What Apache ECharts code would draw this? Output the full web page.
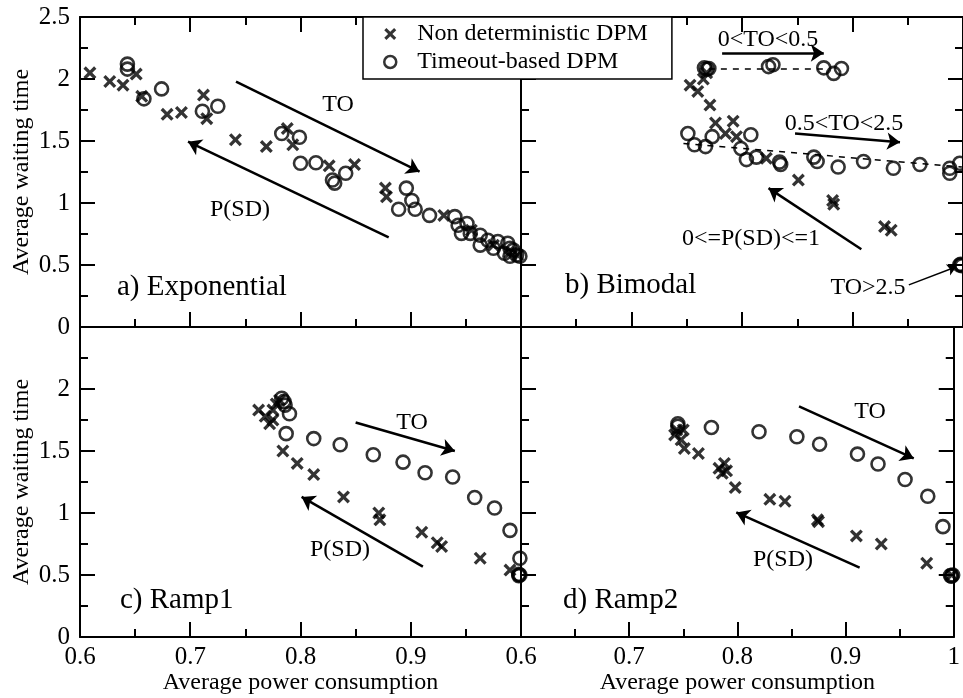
<!DOCTYPE html>
<html>
<head>
<meta charset="utf-8">
<script src="https://cdn.jsdelivr.net/npm/echarts@6/dist/echarts.min.js"></script>
<style>
  html, body { margin: 0; padding: 0; background: #fff; overflow: hidden; }
  #wrap { position: relative; width: 963px; height: 698px; }
  .layer { position: absolute; left: 0; top: 0; width: 963px; height: 698px; }
</style>
</head>
<body>
<div id="wrap">
  <div class="layer" id="chartA"></div>
  <div class="layer" id="chartC"></div>
  <div class="layer" id="chartD"></div>
  <div class="layer" id="chartB"></div>
</div>
<script>
// series names
var nameND = "Non deterministic DPM";
var nameTO = "Timeout-based DPM";

// a) Exponential
var expNonDet = [[0.609,2.05],[0.627,1.98],[0.639,1.95],[0.651,2.04],[0.656,1.86],[0.679,1.715],[0.692,1.73],
  [0.712,1.87],[0.715,1.68],[0.741,1.51],[0.769,1.455],[0.788,1.60],[0.793,1.47],[0.826,1.30],[0.849,1.31],
  [0.877,1.12],[0.878,1.05],[0.930,0.90],[0.955,0.78],[0.975,0.66],[0.990,0.60],[0.997,0.58]];
var expTimeout = [[0.643,2.12],[0.643,2.08],[0.658,1.84],[0.674,1.92],[0.711,1.74],[0.725,1.78],[0.783,1.56],
  [0.799,1.53],[0.800,1.32],[0.814,1.325],[0.829,1.185],[0.831,1.16],[0.841,1.24],[0.889,0.95],[0.896,1.12],
  [0.901,1.02],[0.904,0.95],[0.917,0.90],[0.940,0.89],[0.943,0.82],[0.951,0.835],[0.946,0.755],[0.954,0.755],
  [0.963,0.74],[0.963,0.66],[0.970,0.70],[0.979,0.69],[0.988,0.675],[0.975,0.635],[0.985,0.595],[0.990,0.635],
  [0.996,0.58],[0.990,0.57],[0.993,0.62],[0.999,0.57]];

// b) Bimodal
var bimNonDet = [[0.753,1.95],[0.760,1.90],[0.765,2.00],[0.768,2.05],[0.771,1.79],[0.776,1.645],[0.792,1.66],
  [0.785,1.56],[0.795,1.535],[0.822,1.36],[0.851,1.185],[0.882,1.02],[0.883,0.99],[0.929,0.81],[0.935,0.78]];
var bimTimeout = [[0.766,2.09],[0.768,2.08],[0.770,2.085],[0.824,2.10],[0.828,2.115],[0.874,2.09],[0.883,2.045],
  [0.890,2.085],[0.751,1.56],[0.757,1.47],[0.767,1.455],[0.773,1.535],[0.808,1.55],[0.799,1.44],[0.804,1.35],
  [0.813,1.37],[0.834,1.33],[0.835,1.31],[0.865,1.37],[0.868,1.335],[0.887,1.29],[0.910,1.335],[0.937,1.28],
  [0.961,1.31],[0.988,1.28],[0.988,1.24],[0.997,1.32],[0.997,0.50],[0.998,0.505],[0.999,0.495]];

// c) Ramp1
var r1NonDet = [[0.762,1.83],[0.768,1.78],[0.772,1.72],[0.775,1.83],[0.778,1.88],[0.781,1.91],[0.775,1.75],
  [0.784,1.50],[0.797,1.40],[0.812,1.31],[0.839,1.13],[0.871,1.00],[0.872,0.945],[0.910,0.845],[0.924,0.76],
  [0.928,0.73],[0.963,0.635],[0.990,0.54]];
var r1Timeout = [[0.783,1.925],[0.785,1.90],[0.786,1.87],[0.790,1.80],[0.787,1.64],[0.812,1.60],[0.836,1.55],
  [0.866,1.47],[0.893,1.41],[0.913,1.325],[0.938,1.29],[0.958,1.125],[0.976,1.04],[0.990,0.86],[0.999,0.635],
  [0.999,0.50],[0.998,0.505],[0.998,0.495]];

// d) Ramp2
var r2NonDet = [[0.744,1.67],[0.742,1.63],[0.750,1.67],[0.748,1.59],[0.751,1.52],[0.764,1.48],[0.783,1.36],
  [0.788,1.40],[0.786,1.32],[0.790,1.34],[0.798,1.205],[0.830,1.11],[0.844,1.095],[0.874,0.945],[0.875,0.93],
  [0.910,0.815],[0.933,0.75],[0.975,0.595],[0.998,0.50]];
var r2Timeout = [[0.745,1.72],[0.745,1.70],[0.776,1.69],[0.820,1.655],[0.855,1.615],[0.876,1.555],[0.911,1.475],
  [0.930,1.395],[0.955,1.27],[0.976,1.135],[0.990,0.89],[0.997,0.495],[0.999,0.50],[0.998,0.49]];

// arrows and dashed guides, in data units: [from, to]
var expArrows = [[[0.7415,1.978],[0.908,1.2525]], [[0.880,0.723],[0.698,1.494]]];
var bimArrows = [[[0.782,2.21],[0.874,2.21]], [[0.848,1.56],[0.943,1.49]], [[0.908,0.627],[0.824,1.12]]];
var bimSmallArrow = [[[0.951,0.34],[0.994,0.486]]];
var bimDashed = [[[0.77,2.085],[0.875,2.085]], [[0.747,1.48],[0.999,1.29]]];
var r1Arrows = [[[0.850,1.73],[0.940,1.50]], [[0.911,0.567],[0.801,1.13]]];
var r2Arrows = [[[0.857,1.86],[0.963,1.44]], [[0.913,0.56],[0.799,1.005]]];

var FONT = "'Liberation Serif', 'Times New Roman', serif";
var crossPath = "path://M0,1.8L1.8,0L5,3.2L8.2,0L10,1.8L6.8,5L10,8.2L8.2,10L5,6.8L1.8,10L0,8.2L3.2,5Z";

function xAxis(pos, labels, hideOne, name) {
  return {
    type: "value", position: pos, min: 0.6, max: 1.0, interval: 0.1,
    axisLine: { show: true, onZero: false, lineStyle: { color: "#000", width: 2 } },
    axisTick: { show: true, inside: true, length: 15, lineStyle: { color: "#000", width: 2 } },
    minorTick: { show: true, splitNumber: 2, length: 8, lineStyle: { color: "#000", width: 2 } },
    splitLine: { show: false },
    axisLabel: {
      show: labels, margin: 8, color: "#000", fontFamily: FONT, fontSize: 25,
      formatter: function (v) { return hideOne && v > 0.95 ? "" : String(+v.toFixed(2)); }
    },
    name: name || "", nameLocation: "middle", nameGap: 32,
    nameTextStyle: { color: "#000", fontFamily: FONT, fontSize: 24 }
  };
}

function yAxis(pos, labels, hideTop, name) {
  return {
    type: "value", position: pos, min: 0, max: 2.5, interval: 0.5,
    axisLine: { show: true, onZero: false, lineStyle: { color: "#000", width: 2 } },
    axisTick: { show: true, inside: true, length: 15, lineStyle: { color: "#000", width: 2 } },
    minorTick: { show: true, splitNumber: 2, length: 8, lineStyle: { color: "#000", width: 2 } },
    splitLine: { show: false },
    axisLabel: {
      show: labels, margin: 10, color: "#000", fontFamily: FONT, fontSize: 25,
      formatter: function (v) { return hideTop && v > 2.4 ? "" : String(+v.toFixed(2)); }
    },
    name: name || "", nameLocation: "middle", nameGap: 46,
    nameTextStyle: { color: "#000", fontFamily: FONT, fontSize: 24 }
  };
}

function markLine(arrows, dashed, width, size) {
  var data = arrows.map(function (a) { return [{ coord: a[0] }, { coord: a[1] }]; });
  (dashed || []).forEach(function (a) {
    data.push([{ coord: a[0], symbol: "none", lineStyle: { type: [6, 6], width: 1.5 } }, { coord: a[1], symbol: "none" }]);
  });
  return {
    silent: true, symbol: ["none", "arrow"], symbolSize: size || 13,
    label: { show: false },
    lineStyle: { color: "#000", width: width || 2.5, type: "solid" },
    data: data
  };
}

function textEl(text, x, y, size, align) {
  return {
    type: "text", x: x, y: y, silent: true,
    style: { text: text, fill: "#000", font: (size || 24) + "px " + FONT, align: align || "center", verticalAlign: "middle" }
  };
}

var panels = [
  { id: "chartA", grid: { left: 80, top: 17, width: 441, height: 310 },
    xAxis: [xAxis("bottom", false, true), xAxis("top", false, false)],
    yAxis: [yAxis("left", true, false, "Average waiting time")],
    nd: expNonDet, to: expTimeout, lines: markLine(expArrows), small: null,
    texts: [textEl("a) Exponential", 117, 287, 29, "left"), textEl("TO", 338, 105), textEl("P(SD)", 240, 210)] },
  { id: "chartC", grid: { left: 80, top: 327, width: 441, height: 310 },
    xAxis: [xAxis("bottom", true, true, "Average power consumption")],
    yAxis: [yAxis("left", true, true, "Average waiting time")],
    nd: r1NonDet, to: r1Timeout, lines: markLine(r1Arrows), small: null,
    texts: [textEl("c) Ramp1", 120, 600, 29, "left"), textEl("TO", 412, 423), textEl("P(SD)", 340, 550)] },
  { id: "chartD", grid: { left: 521, top: 327, width: 442, height: 310 },
    xAxis: [xAxis("bottom", true, false, "Average power consumption")],
    yAxis: [yAxis("left", false, false), yAxis("right", false, false)],
    nd: r2NonDet, to: r2Timeout, lines: markLine(r2Arrows), small: null,
    texts: [textEl("d) Ramp2", 563, 600, 29, "left"), textEl("TO", 870, 412), textEl("P(SD)", 783, 560)] },
  { id: "chartB", grid: { left: 521, top: 17, width: 442, height: 310 },
    xAxis: [xAxis("bottom", false, false), xAxis("top", false, false)],
    yAxis: [yAxis("left", false, false), yAxis("right", false, false)],
    nd: bimNonDet, to: bimTimeout, lines: markLine(bimArrows, bimDashed), small: markLine(bimSmallArrow, null, 1.5, 9),
    texts: [textEl("b) Bimodal", 565, 285, 29, "left"), textEl("0<TO<0.5", 768, 40), textEl("0.5<TO<2.5", 844, 124),
      textEl("0<=P(SD)<=1", 751, 239), textEl("TO>2.5", 868, 288)],
    legend: true }
];

panels.forEach(function (p) {
  try {
    var chart = echarts.init(document.getElementById(p.id));
    var option = {
      animation: false,
      backgroundColor: "transparent",
      grid: [p.grid],
      xAxis: p.xAxis,
      yAxis: p.yAxis,
      series: [
        { name: nameTO, type: "scatter", symbol: "circle", symbolSize: 13,
          itemStyle: { color: "rgba(0,0,0,0)", borderColor: "#000", borderWidth: 2.6 }, data: p.to },
        { name: nameND, type: "scatter", symbol: crossPath, symbolSize: 13,
          itemStyle: { color: "#000" }, data: p.nd }
      ]
    };
    if (p.legend) {
      option.legend = {
        data: [
          { name: nameND, icon: crossPath, itemStyle: { color: "#000", borderWidth: 0 } },
          { name: nameTO, icon: "circle", itemStyle: { color: "rgba(0,0,0,0)", borderColor: "#000", borderWidth: 2.5 } }
        ],
        orient: "vertical", left: 363, top: 17,
        backgroundColor: "#fff", borderColor: "#000", borderWidth: 1.5, borderRadius: 0,
        padding: [5, 24, 5, 20], itemGap: 4, itemWidth: 12, itemHeight: 12,
        selectedMode: false,
        textStyle: { color: "#000", fontFamily: FONT, fontSize: 24, padding: [0, 0, 0, 16] }
      };
    }
    chart.setOption(option);
    try {
      var extra = { series: [{ markLine: p.lines }, p.small ? { markLine: p.small } : {}] };
      chart.setOption(extra);
    } catch (e) { }
    try { chart.setOption({ graphic: p.texts }); } catch (e) { }
  } catch (e) { }
});
</script>
</body>
</html>
